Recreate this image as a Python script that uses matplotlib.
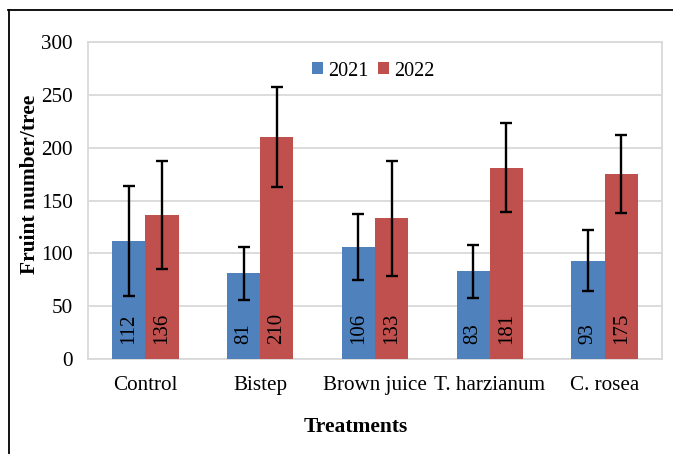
import matplotlib
matplotlib.use("Agg")
import matplotlib.pyplot as plt
from matplotlib.lines import Line2D
import numpy as np

categories = ["Control", "Bistep", "Brown juice", "T. harzianum", "C. rosea"]
years = ["2021", "2022"]
values_2021 = [112, 81, 106, 83, 93]
values_2022 = [136, 210, 133, 181, 175]
err_2021 = [52, 25, 31, 25, 29]
err_2022 = [51, 47, 54, 42, 37]
yticks = [0, 50, 100, 150, 200, 250, 300]

plt.rcParams['font.family'] = ['Liberation Serif', 'DejaVu Serif']

fig = plt.figure(figsize=(6.73, 4.54), dpi=100)
ax = fig.add_axes([88/673, 1-359/454, (662-88)/673, (359-42)/454])

x = np.arange(len(categories))
w = 0.29
blue = "#4F81BD"
red = "#C0504D"
ekw = dict(elinewidth=1.7, capthick=1.7, ecolor="black")
ax.bar(x - w/2, values_2021, w, color=blue, label=years[0], zorder=3,
       yerr=err_2021, capsize=4.5, error_kw=ekw)
ax.bar(x + w/2, values_2022, w, color=red, label=years[1], zorder=3,
       yerr=err_2022, capsize=4.5, error_kw=ekw)

for xi, v in zip(x - w/2, values_2021):
    ax.text(xi, 14, str(v), rotation=90, ha='center', va='bottom', fontsize=15, zorder=4)
for xi, v in zip(x + w/2, values_2022):
    ax.text(xi, 14, str(v), rotation=90, ha='center', va='bottom', fontsize=15, zorder=4)

ax.set_xlim(-0.5, len(categories) - 0.5)
ax.set_ylim(0, 300)
ax.set_yticks(yticks)
ax.set_yticklabels([str(t) for t in yticks], fontsize=15.2)
ax.set_xticks(x)
ax.set_xticklabels(categories, fontsize=15.2)
ax.tick_params(axis='both', length=0)
ax.tick_params(axis='y', pad=11)
ax.tick_params(axis='x', pad=12)
ax.grid(axis='y', color="#D9D9D9", linewidth=1.3, zorder=0)
for s in ax.spines.values():
    s.set_color("#D9D9D9")
    s.set_linewidth(1.3)

ax.set_ylabel("Fruint number/tree", fontsize=15.5, fontweight='bold')
ax.yaxis.set_label_coords(30/673, 1-184/454, transform=fig.transFigure)
ax.set_xlabel("Treatments", fontsize=15.5, fontweight='bold')
ax.xaxis.set_label_coords(356/673, 1-427/454, transform=fig.transFigure)
ax.xaxis.label.set_va('center')
ax.yaxis.label.set_va('center')

leg = ax.legend(loc='center', bbox_to_anchor=(373/673, 1-71/454), bbox_transform=fig.transFigure,
                ncol=2, frameon=False,
                fontsize=14.5, handlelength=0.55, handleheight=0.55, handletextpad=0.25,
                columnspacing=0.45, borderpad=0)

fig.add_artist(Line2D([8.5/673, 8.5/673], [0, 1-10/454], color='black', linewidth=1.3))
fig.add_artist(Line2D([8/673, 1], [1-10/454, 1-10/454], color='black', linewidth=1.3))

fig.savefig("out.png", dpi=100)
